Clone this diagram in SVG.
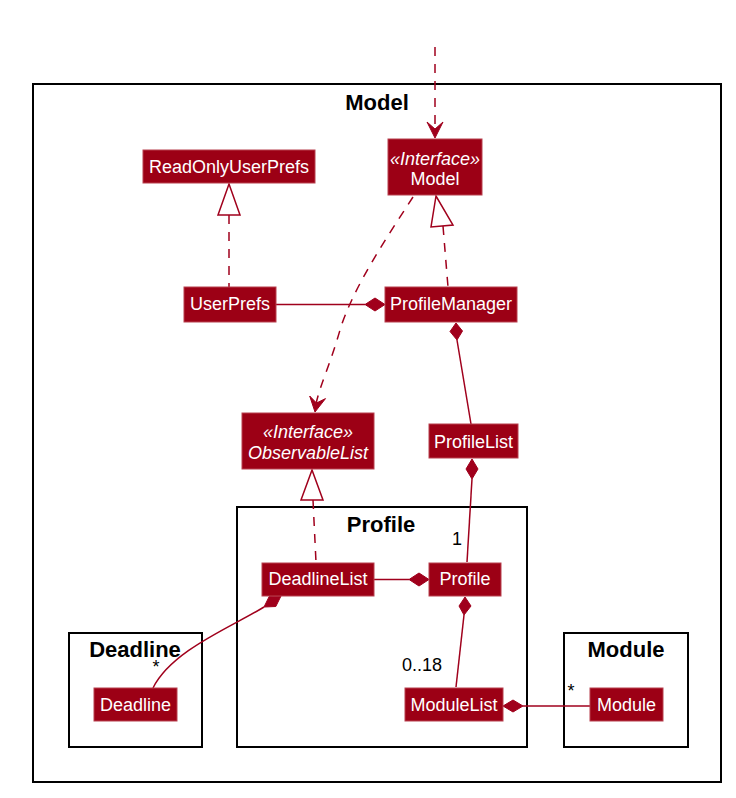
<svg xmlns="http://www.w3.org/2000/svg" width="736" height="798" viewBox="0 0 736 798">
<style>
.pkg{fill:none;stroke:#000;stroke-width:2}
.pt{font-family:"Liberation Sans",Arial,sans-serif;font-weight:bold;font-size:22px;fill:#000;text-anchor:middle}
.nb{fill:#9C0015;stroke:#B8404F;stroke-width:1}
.nt{font-family:"Liberation Sans",Arial,sans-serif;font-size:18px;fill:#fff;text-anchor:middle}
.it{font-style:italic}
.ln{fill:none;stroke:#A0001C;stroke-width:1.5}
.ds{stroke-dasharray:9,8}
.dm{fill:#A0001C;stroke:#A0001C;stroke-width:1}
.tri{fill:#fff;stroke:#A0001C;stroke-width:1.5}
.lb{font-family:"Liberation Sans",Arial,sans-serif;font-size:18px;fill:#000}
</style>
<rect x="0" y="0" width="736" height="798" fill="#fff"/>
<g id="pkg-model"><rect class="pkg" x="33" y="84" width="688" height="698"/><text class="pt" x="377" y="110">Model</text></g>
<g id="pkg-profile"><rect class="pkg" x="237" y="507" width="290" height="240"/><text class="pt" x="381" y="532">Profile</text></g>
<g id="pkg-deadline"><rect class="pkg" x="69" y="633" width="133" height="114"/><text class="pt" x="135" y="657">Deadline</text></g>
<g id="pkg-module"><rect class="pkg" x="564" y="633" width="124" height="114"/><text class="pt" x="626" y="657">Module</text></g>

<g id="connectors">
<path class="ln ds" d="M435,47 L435,130"/>
<polygon class="dm" points="427,122 435,138 443,122 435,129"/>
<path class="ln ds" d="M413,197 C385,240 352,290 340,330 C330,365 320,385 316,404"/>
<polygon class="dm" points="315,412 309.7,396 316.5,403 325.5,398.6"/>
<polygon class="tri" points="229,184 218,215 240,215"/>
<path class="ln ds" d="M229,215 L229,287"/>
<polygon class="tri" points="436,196 431,227 453,225"/>
<path class="ln ds" d="M443,226 L448,287"/>
<path class="ln" d="M276,304.5 L365,304.5"/>
<polygon class="dm" points="365,304.5 375,298 385,304.5 375,311"/>
<polygon class="dm" points="456,323 462.5,331 457,340 450,331.5"/>
<path class="ln" d="M457,340 L471,424"/>
<polygon class="dm" points="472,459 478,469 472,479 466,469"/>
<path class="ln" d="M472,479 L467,562"/>
<polygon class="tri" points="312,470 301,500 323,500"/>
<path class="ln ds" d="M313,500 L316,562"/>
<path class="ln" d="M374,579.5 L409,579.5"/>
<polygon class="dm" points="409,579.5 419,573 429,579.5 419,586"/>
<polygon class="dm" points="465,597 471,606 464,615 459,606"/>
<path class="ln" d="M464,615 L456,687"/>
<polygon class="dm" points="503,706 513,700 523,706 513,712"/>
<path class="ln" d="M523,706 L590,706"/>
<polygon class="dm" points="281,596 275.8,606.5 264,607 269.2,596.5"/>
<path class="ln" d="M264,607 C232,627 172,650 153,688"/>
<text class="lb" x="462" y="545" text-anchor="end">1</text>
<text class="lb" x="402" y="671">0..18</text>
<text class="lb" x="571" y="697" text-anchor="middle">*</text>
<text class="lb" x="156" y="673" text-anchor="middle">*</text>
</g>

<g id="ReadOnlyUserPrefs"><rect class="nb" x="143" y="150" width="172" height="33"/><text class="nt" x="229" y="173">ReadOnlyUserPrefs</text></g>
<g id="ModelInterface"><rect class="nb" x="388" y="139" width="94" height="56"/><text class="nt it" x="435" y="165">«Interface»</text><text class="nt" x="435" y="185">Model</text></g>
<g id="UserPrefs"><rect class="nb" x="184" y="287" width="92" height="35"/><text class="nt" x="230" y="310">UserPrefs</text></g>
<g id="ProfileManager"><rect class="nb" x="385" y="287" width="132" height="35"/><text class="nt" x="451" y="310">ProfileManager</text></g>
<g id="ObservableList"><rect class="nb" x="242" y="413" width="132" height="56"/><text class="nt it" x="308" y="438">«Interface»</text><text class="nt it" x="308" y="459">ObservableList</text></g>
<g id="ProfileList"><rect class="nb" x="429" y="424" width="89" height="34"/><text class="nt" x="473.5" y="448">ProfileList</text></g>
<g id="DeadlineList"><rect class="nb" x="262" y="563" width="112" height="33"/><text class="nt" x="318" y="585">DeadlineList</text></g>
<g id="Profile"><rect class="nb" x="429" y="563" width="72" height="33"/><text class="nt" x="465" y="585">Profile</text></g>
<g id="Deadline"><rect class="nb" x="94" y="688" width="83" height="33"/><text class="nt" x="135.5" y="711">Deadline</text></g>
<g id="ModuleList"><rect class="nb" x="405" y="688" width="98" height="33"/><text class="nt" x="454" y="711">ModuleList</text></g>
<g id="Module"><rect class="nb" x="590" y="688" width="73" height="33"/><text class="nt" x="626.5" y="711">Module</text></g>
</svg>
